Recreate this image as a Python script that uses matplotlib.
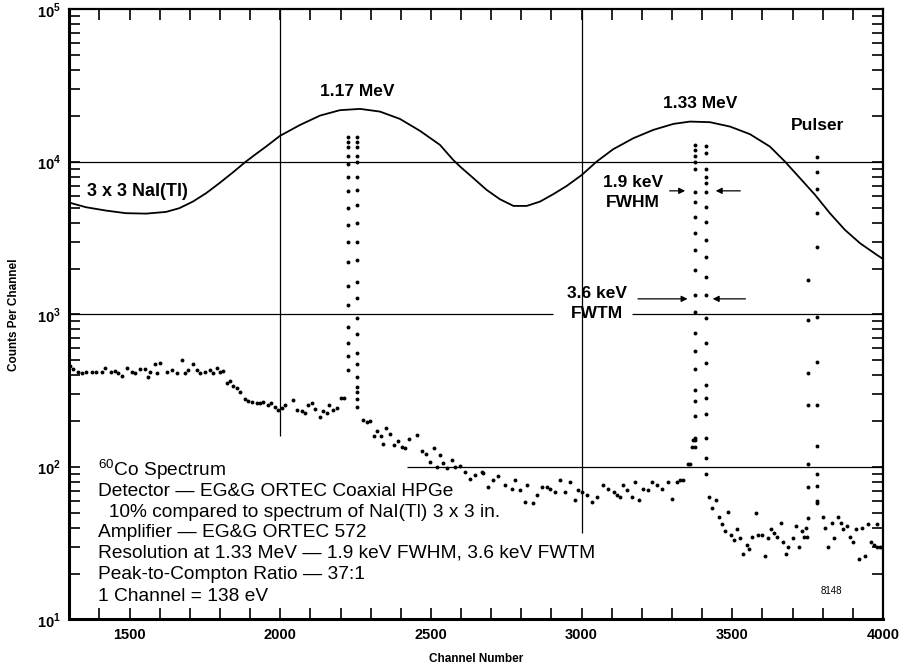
import matplotlib
matplotlib.use('Agg')
import matplotlib.pyplot as plt
import numpy as np
from matplotlib.ticker import FixedLocator, NullFormatter

plt.rcParams['font.family'] = ['Liberation Sans', 'DejaVu Sans']
plt.rcParams['mathtext.fontset'] = 'custom'
plt.rcParams['mathtext.rm'] = 'Liberation Sans'
plt.rcParams['mathtext.bf'] = 'Liberation Sans:bold'

# 3 x 3 NaI(Tl) spectrum (smooth curve), channel / counts
nai_channel = [1300, 1355, 1422, 1488, 1555, 1621, 1665, 1710, 1754, 1798, 1842, 1886,
               1920, 1953, 1999, 2066, 2132, 2198, 2265, 2331, 2397, 2464, 2530, 2574,
               2597, 2641, 2685, 2729, 2774, 2818, 2862, 2906, 2951, 3001, 3050, 3105,
               3172, 3238, 3305, 3360, 3426, 3493, 3559, 3625, 3675, 3725, 3775, 3824,
               3874, 3924, 3980, 4000]
nai_counts = [5409, 5047, 4795, 4610, 4581, 4700, 4971, 5492, 6234, 7252, 8507, 10046,
              11287, 12604, 14810, 17480, 20120, 21830, 22260, 21370, 19140, 15970, 12930, 10300,
              9316, 7820, 6551, 5692, 5145, 5145, 5492, 6140, 6963, 8219, 10046, 12112,
              14300, 16210, 17750, 18380, 18210, 17040, 15190, 12604, 10046, 7820, 6075, 4610,
              3583, 2931, 2456, 2312]

# HPGe spectrum, (channel, counts) pairs
ge_low = [(1302, 459), (1313, 437), (1330, 422), (1341, 415), (1357, 422), (1374, 422),
          (1390, 418), (1407, 422), (1418, 443), (1440, 422), (1451, 428), (1463, 411),
          (1474, 395), (1490, 443), (1507, 422), (1518, 411), (1535, 437), (1551, 437),
          (1562, 391), (1568, 422), (1584, 473), (1590, 411), (1601, 483), (1623, 422),
          (1640, 432), (1656, 411), (1673, 503), (1684, 411), (1695, 432), (1712, 473),
          (1723, 432), (1734, 411), (1750, 418), (1767, 432), (1778, 411), (1789, 443),
          (1800, 418), (1811, 428), (1822, 357), (1833, 367), (1844, 340), (1856, 328),
          (1867, 312), (1883, 278), (1894, 272), (1905, 268), (1922, 262), (1933, 262),
          (1944, 268), (1960, 255), (1971, 262), (1982, 249), (1994, 237), (2005, 243),
          (2016, 255), (2044, 275), (2055, 237), (2071, 231), (2082, 225), (2093, 255),
          (2105, 263), (2115, 239), (2132, 214), (2143, 231), (2154, 225), (2163, 255),
          (2176, 237), (2187, 243), (2201, 285), (2212, 285)]
peak1_left_channel = 2225
peak1_left_counts = [435, 530, 650, 830, 1160, 1540, 2220, 3000, 3860, 4990, 6450, 8000,
                     9700, 11000, 12500, 13500, 14600]
peak1_right_channel = 2254
peak1_right_counts = [14500, 13500, 12500, 11000, 10000, 8000, 6550, 5180, 3980, 3000, 2290,
                      1640, 1290, 950, 740, 560, 470, 391, 335, 310, 278, 247]
ge_mid = [(2276, 203), (2287, 196), (2298, 199), (2311, 160), (2322, 171), (2333, 160),
          (2342, 141), (2351, 180), (2364, 164), (2378, 139), (2392, 147), (2403, 135),
          (2414, 133), (2428, 152), (2453, 162), (2470, 128), (2484, 121), (2497, 108),
          (2510, 133), (2519, 100), (2530, 120), (2541, 106), (2553, 98), (2569, 111),
          (2580, 100), (2597, 101), (2613, 93), (2630, 84), (2647, 89), (2669, 93),
          (2674, 91), (2691, 74), (2707, 82), (2724, 87), (2746, 76), (2768, 72),
          (2779, 82), (2796, 71), (2812, 59), (2818, 76), (2840, 58), (2851, 65),
          (2868, 74), (2885, 74), (2895, 72), (2912, 69), (2928, 82), (2945, 69),
          (2961, 80), (2978, 61), (2989, 71), (3001, 69), (3017, 65), (3034, 59),
          (3050, 64), (3072, 76), (3089, 72), (3106, 69), (3117, 65), (3128, 64),
          (3139, 76), (3150, 71), (3167, 64), (3178, 80), (3189, 61), (3205, 72),
          (3222, 71), (3233, 80), (3250, 76), (3266, 72), (3288, 80), (3299, 62),
          (3316, 80), (3327, 82), (3337, 82), (3354, 104), (3360, 104), (3366, 136),
          (3371, 150)]
peak2_left_channel = 3378
peak2_left_counts = [135, 150, 155, 215, 270, 320, 440, 580, 760, 1040, 1340, 1950, 2640,
                     3420, 4350, 5490, 6350, 9000, 10000, 11000, 12000, 12900]
peak2_right_channel = 3412
peak2_right_counts = [12700, 11500, 9000, 8000, 7300, 6350, 5090, 4050, 3090, 2390, 1770,
                      1340, 950, 650, 480, 345, 283, 222, 156, 115, 90]
ge_tail = [(3424, 64), (3434, 54), (3446, 61), (3456, 47), (3465, 42), (3476, 38),
           (3487, 51), (3496, 36), (3506, 33), (3517, 39), (3526, 34), (3537, 27),
           (3548, 31), (3557, 29), (3567, 35), (3579, 50), (3587, 36), (3598, 36),
           (3609, 26), (3618, 34), (3629, 39), (3639, 37), (3648, 35), (3661, 43),
           (3670, 32), (3679, 27), (3686, 30), (3700, 34), (3712, 41), (3720, 30),
           (3731, 38), (3738, 35), (3745, 40), (3748, 35)]
pulser_left_channel = 3752
pulser_left_counts = [46, 74, 105, 255, 410, 920, 1690]
pulser_right_channel = 3781
pulser_right_counts = [58, 60, 75, 90, 137, 255, 490, 960, 2780, 4620, 6680, 8600, 10700]
ge_end = [(3800, 47), (3808, 40), (3819, 30), (3830, 43), (3839, 34), (3850, 47),
          (3861, 43), (3869, 39), (3880, 41), (3891, 35), (3902, 32), (3911, 39),
          (3921, 25), (3932, 40), (3942, 26), (3952, 42), (3961, 32), (3969, 31),
          (3980, 30), (3982, 42), (3991, 30), (3997, 30)]

x_major = [1500, 2000, 2500, 3000, 3500, 4000]
y_major = [1e1, 1e2, 1e3, 1e4, 1e5]
y_labels = [r'10$^{\mathbf{1}}$', r'10$^{\mathbf{2}}$', r'10$^{\mathbf{3}}$',
            r'10$^{\mathbf{4}}$', r'10$^{\mathbf{5}}$']

info_lines = [r'$^{60}$Co Spectrum',
              'Detector \u2014 EG&G ORTEC Coaxial HPGe',
              '  10% compared to spectrum of NaI(Tl) 3 x 3 in.',
              'Amplifier \u2014 EG&G ORTEC 572',
              'Resolution at 1.33 MeV \u2014 1.9 keV FWHM, 3.6 keV FWTM',
              'Peak-to-Compton Ratio \u2014 37:1',
              '1 Channel = 138 eV']

fig = plt.figure(figsize=(9, 6.69), dpi=100)
ax = fig.add_axes([0.077, 0.074, 0.904, 0.912])
ax.set_yscale('log')
ax.set_xlim(1300, 4000)
ax.set_ylim(10, 1e5)

# partial reference lines as in the original drawing
ax.hlines(1e4, 1300, 4000, color='black', lw=0.9)
ax.hlines(1e3, 1300, 2906, color='black', lw=0.9)
ax.hlines(1e3, 3168, 4000, color='black', lw=0.9)
ax.hlines(1e2, 2420, 4000, color='black', lw=0.9)
ax.vlines(2000, 160, 1e5, color='black', lw=0.9)
ax.vlines(3000, 37, 1e5, color='black', lw=0.9)

ax.plot(nai_channel, nai_counts, color='black', lw=1.3, solid_joinstyle='round')

dot = dict(ls='none', marker='o', ms=2.8, color='black', mec='none')
for seg in (ge_low, ge_mid, ge_tail, ge_end):
    ch, c = np.array(seg).T
    ax.plot(ch, c, **dot)
for chx, cs in ((peak1_left_channel, peak1_left_counts),
                (peak1_right_channel, peak1_right_counts),
                (peak2_left_channel, peak2_left_counts),
                (peak2_right_channel, peak2_right_counts),
                (pulser_left_channel, pulser_left_counts),
                (pulser_right_channel, pulser_right_counts)):
    ax.plot([chx] * len(cs), cs, **dot)

# ticks
ax.xaxis.set_major_locator(FixedLocator(x_major))
ax.xaxis.set_minor_locator(FixedLocator(np.arange(1400, 4000, 100)))
ax.set_yticks(y_major)
ax.set_yticklabels(y_labels)
ax.yaxis.set_minor_locator(FixedLocator([m * 10 ** e for e in range(1, 5) for m in range(2, 10)]))
ax.yaxis.set_minor_formatter(NullFormatter())
ax.tick_params(which='both', direction='in', top=True, right=True, length=8, width=1.2,
               labelsize=10.5, pad=6)
for lab in ax.get_xticklabels() + ax.get_yticklabels():
    lab.set_fontweight('bold')
for s in ax.spines.values():
    s.set_linewidth(1.6)
ax.spines['left'].set_linewidth(2.2)
ax.spines['bottom'].set_linewidth(2.2)

ax.set_xlabel('Channel Number', fontsize=8.5, fontweight='bold', labelpad=8)
ax.set_ylabel('Counts Per Channel', fontsize=8.5, fontweight='bold', labelpad=12)

lbl = dict(transform=ax.transAxes, fontsize=12.5, fontweight='bold', ha='center', va='center')
ax.text(0.354, 0.865, '1.17 MeV', **lbl)
ax.text(0.775, 0.845, '1.33 MeV', **lbl)
ax.text(0.920, 0.809, 'Pulser', **lbl)
ax.text(0.022, 0.701, '3 x 3 NaI(Tl)', transform=ax.transAxes, fontsize=13,
        fontweight='bold', ha='left', va='center')
ax.text(0.693, 0.716, '1.9 keV', **lbl)
ax.text(0.693, 0.684, 'FWHM', **lbl)
ax.text(0.648, 0.535, '3.6 keV', **lbl)
ax.text(0.648, 0.502, 'FWTM', **lbl)

arrow = dict(arrowstyle='-|>', lw=0.9, color='black', mutation_scale=9)
ax.annotate('', xy=(3353, 6460), xytext=(3283, 6460), arrowprops=arrow)
ax.annotate('', xy=(3436, 6460), xytext=(3536, 6460), arrowprops=arrow)
ax.annotate('', xy=(3361, 1265), xytext=(3178, 1265), arrowprops=arrow)
ax.annotate('', xy=(3426, 1265), xytext=(3553, 1265), arrowprops=arrow)

line_y = [0.245, 0.209, 0.175, 0.143, 0.109, 0.073, 0.0385]
for txt, yy in zip(info_lines, line_y):
    ax.text(0.035, yy, txt, transform=ax.transAxes, fontsize=13.8, ha='left', va='center')
ax.text(0.937, 0.047, '8148', transform=ax.transAxes, fontsize=7, ha='center', va='center')

fig.savefig('out.png', dpi=100)
